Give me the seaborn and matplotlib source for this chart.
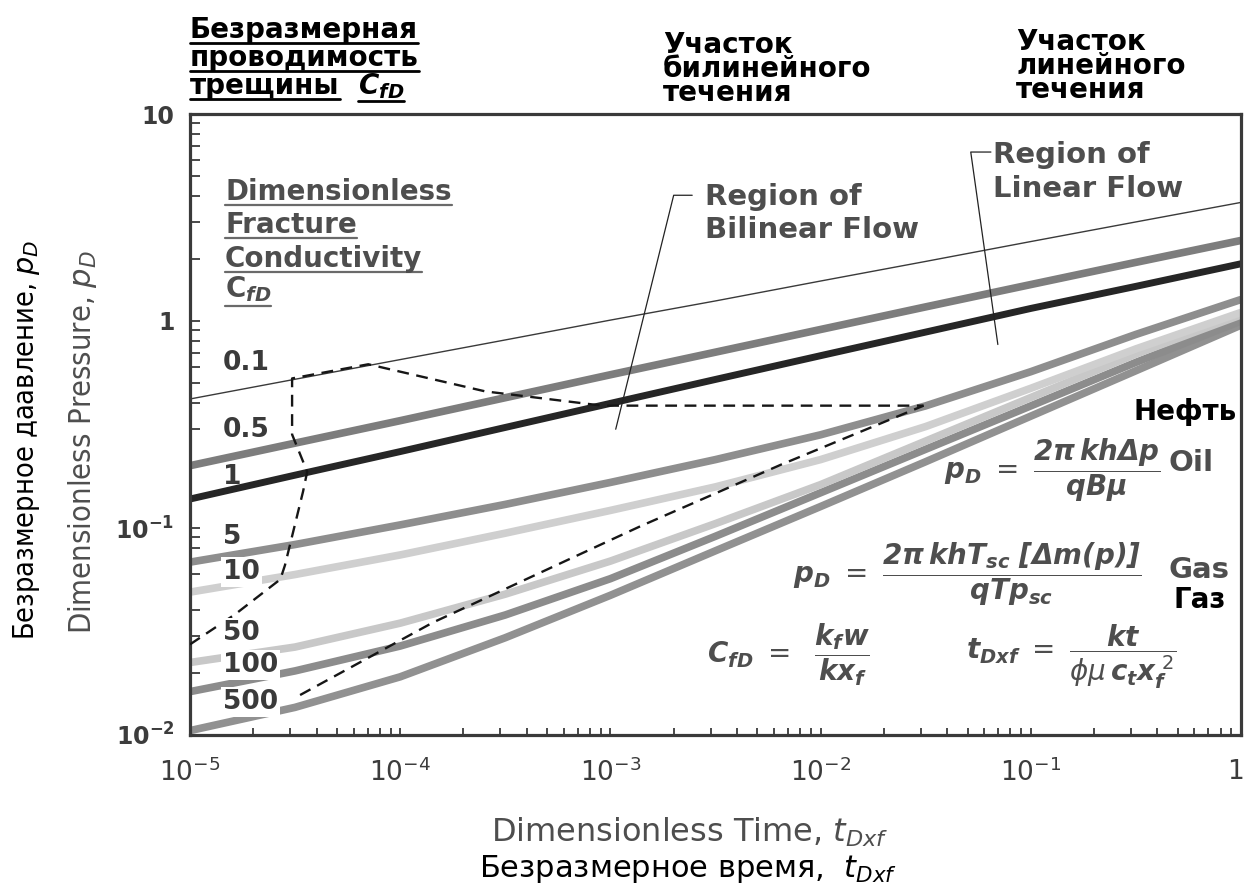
import matplotlib
matplotlib.use("Agg")
import matplotlib.pyplot as plt
from matplotlib import font_manager as fm
from matplotlib import transforms as mtransforms
from matplotlib.lines import Line2D
from matplotlib.ticker import NullFormatter, LogLocator
import seaborn as sns
import pandas as pd

# ---------------- data ----------------
t_dxf = [1e-5, 3.16e-5, 1e-4, 3.16e-4, 1e-3, 3.16e-3, 1e-2, 3.16e-2, 1e-1, 3.16e-1, 1.0]
cfd_names = ["0.1", "0.5", "1", "5", "10", "50", "100", "500"]
pd_cfd_0_1 = [0.42, 0.523, 0.651, 0.81, 1.01, 1.25, 1.56, 1.94, 2.42, 3.01, 3.74]
pd_cfd_0_5 = [0.20, 0.257, 0.33, 0.426, 0.55, 0.707, 0.91, 1.17, 1.50, 1.92, 2.45]
pd_cfd_1 = [0.138, 0.180, 0.234, 0.306, 0.40, 0.522, 0.68, 0.884, 1.15, 1.47, 1.89]
pd_cfd_5 = [0.0684, 0.0832, 0.1035, 0.130, 0.166, 0.214, 0.282, 0.389, 0.569, 0.861, 1.27]
pd_cfd_10 = [0.049, 0.0596, 0.0741, 0.0944, 0.1216, 0.158, 0.214, 0.309, 0.473, 0.733, 1.10]
pd_cfd_50 = [0.0224, 0.0266, 0.0347, 0.0479, 0.0692, 0.105, 0.162, 0.263, 0.427, 0.692, 1.07]
pd_cfd_100 = [0.0162, 0.0204, 0.0269, 0.038, 0.0569, 0.0912, 0.148, 0.24, 0.389, 0.631, 1.0]
pd_cfd_500 = [0.0105, 0.0136, 0.0191, 0.0295, 0.0473, 0.0776, 0.127, 0.209, 0.347, 0.575, 0.955]

# dashed boundaries of the flow regions
bilinear_bound_t = [1.0e-5, 1.64e-5, 2.69e-5, 2.83e-5, 3.45e-5, 3.61e-5, 3.06e-5, 3.06e-5,
                    7.05e-5, 2.54e-4, 9.16e-4, 3.09e-2]
bilinear_bound_p = [0.0274, 0.0383, 0.0565, 0.0661, 0.150, 0.187, 0.283, 0.528,
                    0.618, 0.457, 0.39, 0.39]
linear_bound_t = [3.34e-5, 1.435e-4, 2.59e-4, 6.24e-4, 1.39e-3, 6.46e-3, 3.09e-2]
linear_bound_p = [0.0156, 0.035, 0.0462, 0.070, 0.102, 0.202, 0.39]

# leader lines of the region labels
bilinear_leader_t = [2.45e-3, 2.0e-3, 1.06e-3]
bilinear_leader_p = [4.05, 4.05, 0.30]
linear_leader_t = [0.0646, 0.0518, 0.0697]
linear_leader_p = [6.55, 6.55, 0.77]

x_tick_values = [1e-5, 1e-4, 1e-3, 1e-2, 1e-1, 1]
x_tick_labels = [r"$\mathdefault{10^{-5}}$", r"$\mathdefault{10^{-4}}$", r"$\mathdefault{10^{-3}}$",
                 r"$\mathdefault{10^{-2}}$", r"$\mathdefault{10^{-1}}$", "1"]
y_tick_values = [0.01, 0.1, 1, 10]
y_tick_labels = [r"$\mathdefault{10^{-2}}$", r"$\mathdefault{10^{-1}}$", "1", "10"]

# ---------------- styles ----------------
curve_style = {
    "0.1": ("#3a3a3a", 1.0),
    "0.5": ("#7d7d7d", 5.5),
    "1": ("#262626", 5.0),
    "5": ("#8e8e8e", 5.5),
    "10": ("#cfcfcf", 5.5),
    "50": ("#c8c8c8", 5.5),
    "100": ("#8c8c8c", 5.5),
    "500": ("#919191", 5.5),
}
label_pos = {
    "0.1": (223, 363, False), "0.5": (223, 430, False), "1": (223, 477, False),
    "5": (223, 537, False), "10": (223, 572, True), "50": (223, 633, True),
    "100": (223, 665, True), "500": (223, 702, True),
}

W, H = 1245, 886
GRAY = "#4e4e4e"
AXC = "#3a3a3a"

sns.set_theme(style="white")
plt.rcParams["font.family"] = ["DejaVu Sans"]
plt.rcParams["mathtext.fontset"] = "dejavusans"


def font_ok(name):
    try:
        fm.findfont(fm.FontProperties(family=name), fallback_to_default=False)
        return True
    except Exception:
        return False


if font_ok("Liberation Sans Narrow"):
    COND = dict(family="Liberation Sans Narrow")
else:
    COND = dict(family="DejaVu Sans", stretch="condensed")

fig = plt.figure(figsize=(W / 100, H / 100), dpi=100)
fig.patch.set_facecolor("white")
ax = fig.add_axes([190 / W, 1 - 735 / H, (1241 - 190) / W, (735 - 114) / H])
ax.set_facecolor("white")
ax.set_xscale("log")
ax.set_yscale("log")

# ---------------- curves ----------------
series = [pd_cfd_0_1, pd_cfd_0_5, pd_cfd_1, pd_cfd_5, pd_cfd_10, pd_cfd_50, pd_cfd_100, pd_cfd_500]
df = pd.DataFrame({
    "t": [t for _ in cfd_names for t in t_dxf],
    "pD": [v for s in series for v in s],
    "CfD": [n for n in cfd_names for _ in t_dxf],
})
for name in reversed(cfd_names):
    col, lw = curve_style[name]
    sns.lineplot(data=df[df["CfD"] == name], x="t", y="pD", ax=ax, color=col, linewidth=lw,
                 estimator=None, sort=False, legend=False, solid_capstyle="butt",
                 solid_joinstyle="round", zorder=2)

dash = (0, (5, 3.2))
sns.lineplot(x=bilinear_bound_t, y=bilinear_bound_p, ax=ax, color="#161616", linewidth=1.7,
             linestyle=dash, estimator=None, sort=False, legend=False, zorder=3)
sns.lineplot(x=linear_bound_t, y=linear_bound_p, ax=ax, color="#161616", linewidth=1.7,
             linestyle=dash, estimator=None, sort=False, legend=False, zorder=3)
sns.lineplot(x=bilinear_leader_t, y=bilinear_leader_p, ax=ax, color="#222222", linewidth=0.9,
             estimator=None, sort=False, legend=False, zorder=3)
sns.lineplot(x=linear_leader_t, y=linear_leader_p, ax=ax, color="#222222", linewidth=0.9,
             estimator=None, sort=False, legend=False, zorder=3)

# ---------------- axes ----------------
ax.set_xlim(1e-5, 1)
ax.set_ylim(0.01, 10)
ax.set_xlabel("")
ax.set_ylabel("")
ax.set_xticks(x_tick_values)
ax.set_xticklabels(x_tick_labels, fontsize=19, color="#3c3c3c")
ax.set_yticks(y_tick_values)
ax.set_yticklabels(y_tick_labels, fontsize=17, fontweight="bold", color="#3c3c3c")
ax.xaxis.set_minor_locator(LogLocator(base=10, subs=[2, 3, 4, 5, 6, 7, 8, 9]))
ax.yaxis.set_minor_locator(LogLocator(base=10, subs=[2, 3, 4, 5, 6, 7, 8, 9]))
ax.xaxis.set_minor_formatter(NullFormatter())
ax.yaxis.set_minor_formatter(NullFormatter())
ax.tick_params(axis="x", which="both", direction="in", length=5, width=1.3, color=AXC,
               bottom=True, top=False, pad=17)
ax.tick_params(axis="y", which="both", direction="in", length=7, width=1.3, color=AXC,
               left=True, right=False, pad=11)
for sp in ax.spines.values():
    sp.set_color(AXC)
    sp.set_linewidth(2.3)
    sp.set_visible(True)
ax.grid(False)
last = ax.get_xticklabels()[-1]
last.set_transform(last.get_transform() + mtransforms.ScaledTranslation(-6 / 100, 0, fig.dpi_scale_trans))

# ---------------- texts ----------------
underlines = []


def put(x, y, s, ul=None, **kw):
    t = fig.text(x / W, 1 - y / H, s, **kw)
    if ul is not None:
        underlines.append((t, y, ul))
    return t


for name in cfd_names:
    x, y, mask = label_pos[name]
    kw = dict(fontsize=19, fontweight="bold", color="#3a3a3a", ha="left", va="center", zorder=6)
    if mask:
        kw["bbox"] = dict(facecolor="white", edgecolor="none", pad=1.5)
    put(x, y, name, **kw)

# top Russian headings
RB = dict(fontsize=20, fontweight="bold", color="black", va="baseline", ha="left")
put(190, 38, "Безразмерная", ul=(5, "black", 2.0), **RB)
put(190, 66, "проводимость", ul=(5, "black", 2.0), **RB)
put(190, 94, "трещины", ul=(5, "black", 2.0), **RB)
put(358, 94, r"$\mathbfit{C}_{\mathbfit{fD}}$", ul=(7, "black", 2.0), **RB)
RH = dict(fontsize=20, fontweight="bold", color="black", va="top", ha="left", linespacing=0.82)
put(663, 31, "Участок\nбилинейного\nтечения", **RH)
put(1016, 28, "Участок\nлинейного\nтечения", **RH)

# gray English annotations
GB = dict(fontsize=20, fontweight="bold", color=GRAY, va="baseline", ha="left")
put(225, 200, "Dimensionless", ul=(5, "#6a6a6a", 1.6), **GB)
put(225, 233, "Fracture", ul=(5, "#6a6a6a", 1.6), **GB)
put(225, 267, "Conductivity", ul=(5, "#6a6a6a", 1.6), **GB)
put(225, 297, r"C$_{\mathbfit{fD}}$", ul=(9, "#6a6a6a", 1.6), **GB)
GR = dict(fontsize=21, fontweight="bold", color=GRAY, va="baseline", ha="left")
put(705, 205, "Region of", **GR)
put(705, 238, "Bilinear Flow", **GR)
put(993, 163, "Region of", **GR)
put(993, 197, "Linear Flow", **GR)

# formulas
FM = dict(fontsize=20, color=GRAY, va="center", ha="left")
put(944, 470, r"$\mathbfit{p}_{\mathbfit{D}}\ =\ \dfrac{\mathbfit{2\pi\,kh\Delta p}}{\mathbfit{qB\mu}}$", **FM)
put(793, 574, r"$\mathbfit{p}_{\mathbfit{D}}\ =\ \dfrac{\mathbfit{2\pi\,khT}_{\mathbfit{sc}}\ \mathbfit{[\Delta m(p)]}}"
              r"{\mathbfit{qTp}_{\mathbfit{sc}}}$", **FM)
put(707, 655, r"$\mathbfit{C}_{\mathbfit{fD}}\ =\ \ \dfrac{\mathbfit{k}_{\mathbfit{f}}\mathbfit{w}}"
              r"{\mathbfit{kx}_{\mathbfit{f}}}$", **FM)
put(966, 657, r"$\mathbfit{t}_{\mathbfit{Dxf}}\ =\ \dfrac{\mathbfit{kt}}"
              r"{\phi\mu\,\mathbfit{c}_{\mathbfit{t}}\mathbfit{x}_{\mathbfit{f}}^{\ 2}}$", **FM)
put(1168, 463, "Oil", fontsize=21, fontweight="bold", color=GRAY, va="center", ha="left")
put(1168, 570, "Gas", fontsize=21, fontweight="bold", color=GRAY, va="center", ha="left")
put(1133, 412, "Нефть", fontsize=20, fontweight="bold", color="black", va="center", ha="left")
put(1174, 600, "Газ", fontsize=20, fontweight="bold", color="black", va="center", ha="left")

# axis titles
put(690, 832, r"Dimensionless Time, $\mathit{t}_{\mathit{Dxf}}$", fontsize=23, color=GRAY,
    ha="center", va="center")
put(688, 869, r"Безразмерное время,  $\mathit{t}_{\mathit{Dxf}}$", fontsize=22, color="black",
    ha="center", va="center")
yl_ru = put(27, 440, r"Безразмерное даавление, $\mathit{p}_{\mathit{D}}$", fontsize=24, color="black",
            rotation=90, ha="center", va="center", **COND)
yl_en = put(83, 442, r"Dimensionless Pressure, $\mathit{p}_{\mathit{D}}$", fontsize=24, color=GRAY,
            rotation=90, ha="center", va="center", **COND)

fig.canvas.draw()
r = fig.canvas.get_renderer()


def fit(t, target, vertical=False):
    bb = t.get_window_extent(r)
    cur = bb.height if vertical else bb.width
    t.set_fontsize(t.get_fontsize() * target / cur)


fit(yl_ru, 400, vertical=True)
fit(yl_en, 385, vertical=True)
fig.canvas.draw()

for t, y, (off, col, lw) in underlines:
    bb = t.get_window_extent(r)
    yy = 1 - (y + off) / H
    fig.add_artist(Line2D([bb.x0 / W, bb.x1 / W], [yy, yy], color=col, lw=lw,
                          transform=fig.transFigure))

fig.savefig("out.png", dpi=100, facecolor="white")
